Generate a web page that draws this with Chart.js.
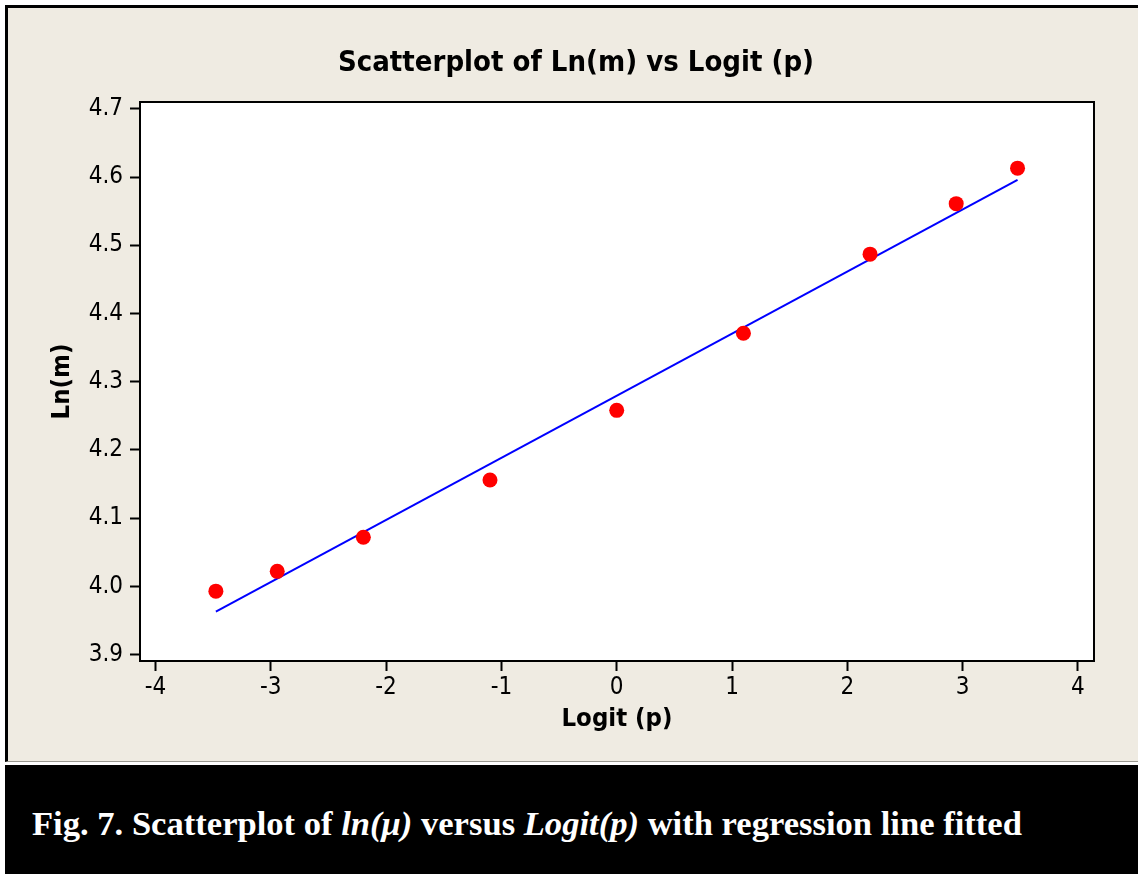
<!DOCTYPE html>
<html>
<head>
<meta charset="utf-8">
<script src="https://cdn.jsdelivr.net/npm/chart.js@4"></script>
<style>
    html, body { margin: 0; padding: 0; background: #ffffff; }
    body { width: 1138px; height: 874px; position: relative; overflow: hidden; }
    #frame {
        position: absolute; left: 5px; top: 5px; width: 1133px; height: 757px;
        background: #efebe2; border-left: 3px solid #000; border-top: 3px solid #000;
        border-bottom: 1px solid #9a9890; box-sizing: border-box;
    }
    #band {
        position: absolute; left: 5px; top: 765px; width: 1133px; height: 109px;
        background: #000;
    }
    #caption {
        position: absolute; left: 32px; top: 806px; color: #fff;
        font-family: 'Liberation Serif', 'Times New Roman', serif;
        font-weight: bold; font-size: 34.6px; line-height: 34.6px; white-space: nowrap;
    }
    #chart { position: absolute; left: 0; top: 0; }
</style>
</head>
<body>
<div id="frame"></div>
<div id="band"></div>
<div id="caption">Fig. 7. Scatterplot of <i>ln(μ)</i> versus <i>Logit(p)</i> with regression line fitted</div>
<canvas id="chart" width="1138" height="765"></canvas>
<script>
    // Logit(p) values and Ln(m)
    const logitP = [-3.476, -2.944, -2.197, -1.099, 0, 1.099, 2.197, 2.944, 3.476];
    const lnM = [3.993, 4.022, 4.072, 4.156, 4.258, 4.371, 4.487, 4.561, 4.613];

    // fitted regression line, ends
    const fitX = [-3.476, 3.476];
    const fitY = [3.963, 4.596];

    const xTicks = [-4, -3, -2, -1, 0, 1, 2, 3, 4];
    const yTicks = [3.9, 4.0, 4.1, 4.2, 4.3, 4.4, 4.5, 4.6, 4.7];

    const chartTitle = 'Scatterplot of Ln(m) vs Logit (p)';
    const sansFont = "'DejaVu Sans Condensed', 'DejaVu Sans', sans-serif";

    // white plot area with a black frame, plus the title (it sits off-centre in the original)
    const plotFrame = {
        id: 'plotFrame',
        beforeDatasetsDraw(chart) {
            const { ctx, chartArea: a } = chart;
            ctx.save();
            ctx.fillStyle = '#ffffff';
            ctx.fillRect(a.left, a.top, a.right - a.left, a.bottom - a.top);
            ctx.restore();
        },
        afterDraw(chart) {
            const { ctx, chartArea: a } = chart;
            ctx.save();
            ctx.strokeStyle = '#000000';
            ctx.lineWidth = 2;
            ctx.strokeRect(a.left, a.top, a.right - a.left, a.bottom - a.top);

            ctx.fillStyle = '#000000';
            ctx.font = 'bold 29px ' + sansFont;
            ctx.textAlign = 'center';
            ctx.textBaseline = 'alphabetic';
            ctx.fillText(chartTitle, 576, 71);
            ctx.restore();
        }
    };

    new Chart(document.getElementById('chart'), {
        type: 'scatter',
        data: {
            datasets: [{
                label: 'Ln(m)',
                data: logitP.map((x, i) => ({ x: x, y: lnM[i] })),
                backgroundColor: '#ff0000',
                borderWidth: 0,
                pointRadius: 7.5,
                order: 0
            }, {
                type: 'line',
                label: 'Fit',
                data: fitX.map((x, i) => ({ x: x, y: fitY[i] })),
                borderColor: '#0000ff',
                borderWidth: 2,
                pointRadius: 0,
                fill: false,
                order: 1
            }]
        },
        options: {
            responsive: false,
            animation: false,
            devicePixelRatio: 1,
            layout: { padding: { left: 0, right: 44, top: 102, bottom: 0 } },
            plugins: {
                legend: { display: false },
                tooltip: { enabled: false },
                title: { display: false }
            },
            scales: {
                x: {
                    type: 'linear',
                    min: -4.134,
                    max: 4.139,
                    afterFit(scale) { scale.height = 104; },
                    afterBuildTicks(scale) { scale.ticks = xTicks.map(v => ({ value: v })); },
                    border: { display: false },
                    grid: {
                        drawOnChartArea: false,
                        drawTicks: true,
                        tickLength: 10,
                        tickColor: '#000000',
                        tickWidth: 2
                    },
                    ticks: {
                        color: '#000000',
                        padding: 2,
                        font: { family: sansFont, size: 24 },
                        callback: v => String(v)
                    },
                    title: {
                        display: true,
                        text: 'Logit (p)',
                        color: '#000000',
                        font: { family: sansFont, size: 25.5, weight: 'bold', lineHeight: 1.2 },
                        padding: { top: 0, bottom: 30 }
                    }
                },
                y: {
                    type: 'linear',
                    min: 3.8906,
                    max: 4.710,
                    afterFit(scale) { scale.width = 140; },
                    afterBuildTicks(scale) { scale.ticks = yTicks.map(v => ({ value: v })); },
                    border: { display: false },
                    grid: {
                        drawOnChartArea: false,
                        drawTicks: true,
                        tickLength: 10,
                        tickColor: '#000000',
                        tickWidth: 2
                    },
                    ticks: {
                        color: '#000000',
                        padding: 7,
                        font: { family: sansFont, size: 24 },
                        callback: v => v.toFixed(1)
                    },
                    title: {
                        display: true,
                        text: 'Ln(m)',
                        color: '#000000',
                        font: { family: sansFont, size: 25.5, weight: 'bold', lineHeight: 1.2 },
                        padding: { top: 47, bottom: 0 }
                    }
                }
            }
        },
        plugins: [plotFrame]
    });
</script>
</body>
</html>
